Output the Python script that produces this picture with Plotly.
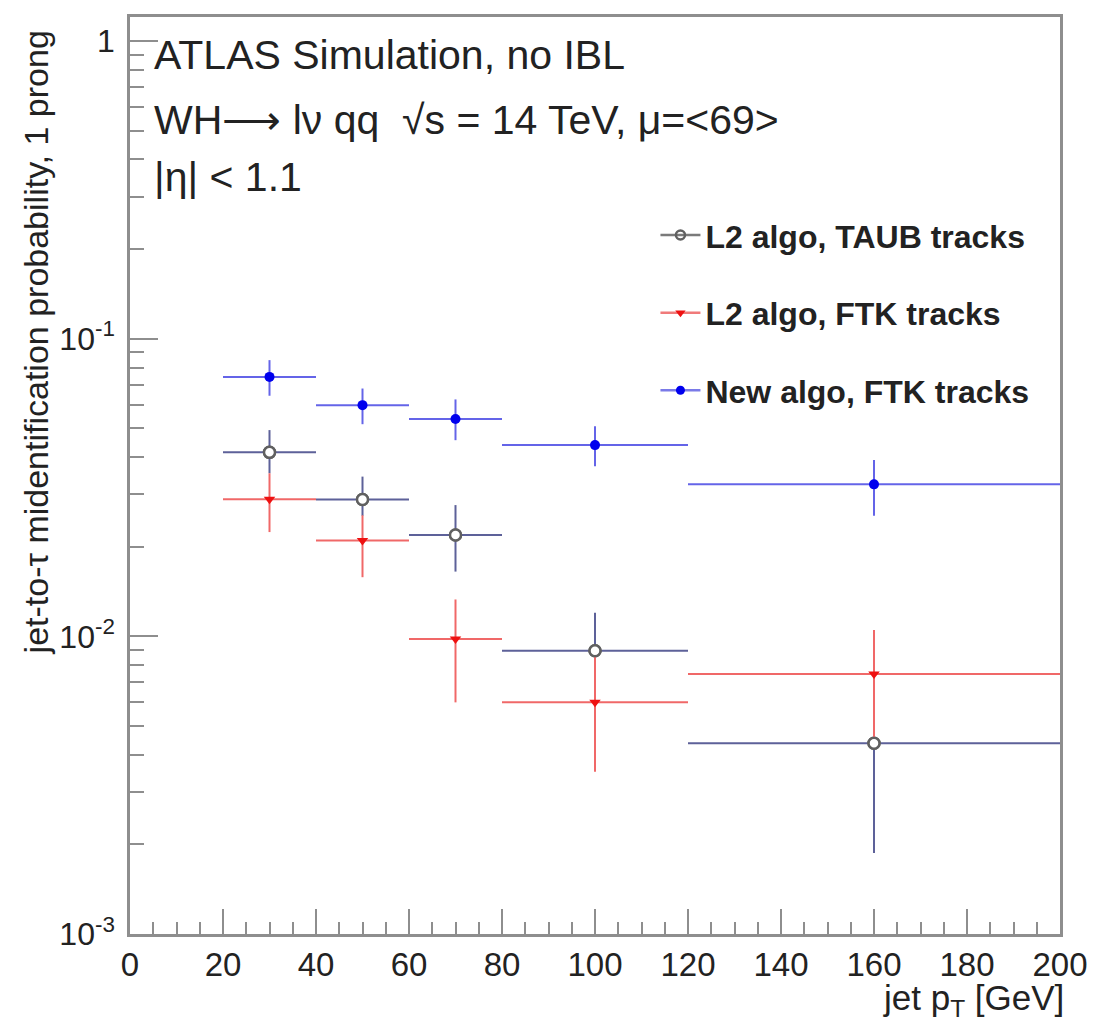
import plotly.graph_objects as go

# ---- data ----
pt_center = [30, 50, 70, 100, 160]
pt_halfwidth = [10, 10, 10, 20, 40]

taub_val = [0.0415, 0.0288, 0.0219, 0.00895, 0.00437]
taub_hi = [0.0493, 0.0344, 0.0276, 0.0120, 0.0059]
taub_lo = [0.0353, 0.0254, 0.0165, 0.0066, 0.00187]

ftk_val = [0.0289, 0.0210, 0.0098, 0.0060, 0.00747]
ftk_hi = [0.0353, 0.0255, 0.0133, 0.0085, 0.0105]
ftk_lo = [0.0224, 0.0158, 0.0060, 0.00351, 0.0046]

new_val = [0.0744, 0.0598, 0.0537, 0.0439, 0.0324]
new_hi = [0.0847, 0.0680, 0.0625, 0.0508, 0.0391]
new_lo = [0.0643, 0.0516, 0.0456, 0.0373, 0.0254]

series_names = ["L2 algo, TAUB tracks", "L2 algo, FTK tracks", "New algo, FTK tracks"]

y_tickvals = [0.001, 0.01, 0.1, 1]
y_ticktext = ["10<sup>-3</sup>", "10<sup>-2</sup>", "10<sup>-1</sup>", "1"]
x_tickvals = [0, 20, 40, 60, 80, 100, 120, 140, 160, 180, 200]

FONT = "Liberation Sans, Arial, Helvetica, sans-serif"
AXIS_COL = "#8e8e8e"
TXT = "#222222"

fig = go.Figure()

specs = [
    (taub_val, taub_hi, taub_lo, dict(symbol="circle-open", size=11, color="#606060", line=dict(width=2.5)),
     "#5d6199", "#7a7a7a"),
    (ftk_val, ftk_hi, ftk_lo, dict(symbol="triangle-down", size=10, color="#ee1111"),
     "#f06868", "#f07a7a"),
    (new_val, new_hi, new_lo, dict(symbol="circle", size=10, color="#0000ee"),
     "#6464e8", "#7a7ae8"),
]

for name, (val, hi, lo, marker, ecol, lcol) in zip(series_names, specs):
    up = [h - v for h, v in zip(hi, val)]
    dn = [v - l for v, l in zip(val, lo)]
    fig.add_trace(go.Scatter(
        x=pt_center, y=val, mode="markers", showlegend=False,
        marker=marker,
        error_x=dict(type="data", array=pt_halfwidth, symmetric=True, color=ecol, thickness=2, width=0),
        error_y=dict(type="data", array=up, arrayminus=dn, symmetric=False, color=ecol, thickness=2, width=0),
    ))
    if marker["symbol"] == "circle-open":
        # white-filled open circle drawn over its own error bars
        fig.add_trace(go.Scatter(x=pt_center, y=val, mode="markers", showlegend=False, hoverinfo="skip",
                                 marker=dict(symbol="circle", size=10, color="white")))
        fig.add_trace(go.Scatter(x=pt_center, y=val, mode="markers", showlegend=False, hoverinfo="skip",
                                 marker=marker))

# legend-only entries (line + marker, like the ROOT legend)
for i, (name, (val, hi, lo, marker, ecol, lcol)) in enumerate(zip(series_names, specs)):
    fig.add_trace(go.Scatter(
        x=[None], y=[None], mode="lines+markers", name=name, legendgroup=f"g{i}",
        line=dict(color=lcol, width=2.5),
        marker=dict(marker, size=9),
    ))

fig.update_xaxes(
    type="linear", range=[0, 200],
    tickvals=x_tickvals, ticks="inside", ticklen=25, tickwidth=2, tickcolor=AXIS_COL,
    minor=dict(dtick=5, tick0=0, ticks="inside", ticklen=12, tickwidth=2, tickcolor=AXIS_COL, showgrid=False),
    showline=True, linecolor=AXIS_COL, linewidth=2.5, mirror=True,
    showgrid=False, zeroline=False,
    tickfont=dict(family=FONT, size=33, color=TXT),
    ticklabelstandoff=0,
)
minor_y = [m * 10.0 ** e for e in (-3, -2, -1) for m in range(2, 10)]
fig.update_yaxes(
    type="log", range=[-3, 0.0806],
    tickvals=y_tickvals, ticktext=y_ticktext,
    ticks="inside", ticklen=28, tickwidth=2, tickcolor=AXIS_COL,
    minor=dict(tickmode="array", tickvals=minor_y, ticks="inside", ticklen=14, tickwidth=2,
               tickcolor=AXIS_COL, showgrid=False),
    showline=True, linecolor=AXIS_COL, linewidth=2.5, mirror=True,
    showgrid=False, zeroline=False,
    tickfont=dict(family=FONT, size=32, color=TXT),
    ticklabelstandoff=6,
)

fig.update_layout(
    width=1100, height=1021,
    margin=dict(l=130, r=36, t=17, b=87),
    paper_bgcolor="white", plot_bgcolor="white",
    font=dict(family=FONT, color=TXT),
    showlegend=True,
    legend=dict(
        x=0.565, y=0.792, xanchor="left", yanchor="top",
        bgcolor="rgba(0,0,0,0)", borderwidth=0,
        font=dict(family="Liberation Sans, Arial, sans-serif", size=32, color=TXT, weight="bold"),
        traceorder="grouped", tracegroupgap=33, itemwidth=40,
    ),
)

texts = [
    ("ATLAS Simulation, no IBL", 55),
    ("WH\u27f6 l\u03bd qq  \u221as = 14 TeV, \u03bc=&lt;69&gt;", 120),
    ("|\u03b7| &lt; 1.1", 177),
]
for t, ypx in texts:
    fig.add_annotation(
        text=t, xref="paper", yref="paper",
        x=(152 - 130) / 934, y=(934 - ypx) / 917,
        xanchor="left", yanchor="middle", showarrow=False,
        font=dict(family=FONT, size=41, color=TXT),
    )

fig.add_annotation(
    text="jet p<sub>T</sub> [GeV]", xref="paper", yref="paper",
    x=1.006, y=(934 - 1000) / 917, xanchor="right", yanchor="middle", showarrow=False,
    font=dict(family=FONT, size=35, color=TXT),
)
fig.add_annotation(
    text="jet-to-\u03c4 midentification probability, 1 prong", xref="paper", yref="paper",
    x=(36 - 130) / 934, y=(934 - 342) / 917, xanchor="center", yanchor="middle",
    textangle=-90, showarrow=False,
    font=dict(family=FONT, size=34, color=TXT),
)

fig.write_html("out.html")
